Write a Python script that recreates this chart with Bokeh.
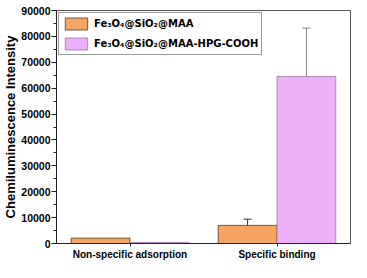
from bokeh.plotting import figure
from bokeh.models import ColumnDataSource, Whisker, TeeHead, SingleIntervalTicker, Range1d, FactorRange, NumeralTickFormatter
from bokeh.transform import dodge
from bokeh.embed import file_html
from bokeh.resources import INLINE

categories = ["Non-specific adsorption", "Specific binding"]
series_names = ["Fe\u2083O\u2084@SiO\u2082@MAA", "Fe\u2083O\u2084@SiO\u2082@MAA-HPG-COOH"]
maa_values = [2100, 7000]
maa_errors = [0, 2400]
hpg_values = [450, 64500]
hpg_errors = [0, 18700]
y_ticks_interval = 10000

FONT = "Liberation Sans"

p = figure(x_range=FactorRange(*categories, range_padding=0), y_range=Range1d(0, 90000),
           width=351, height=262, output_backend="svg", toolbar_location=None,
           min_border_left=49, min_border_right=1, min_border_top=10, min_border_bottom=17)

src = ColumnDataSource(dict(cat=categories, maa=maa_values, hpg=hpg_values))
p.vbar(x=dodge("cat", -0.2, range=p.x_range), top="maa", width=0.4, source=src,
       fill_color="#F5A461", line_color="#4a3a30", line_width=0.8, legend_label=series_names[0])
p.vbar(x=dodge("cat", 0.2, range=p.x_range), top="hpg", width=0.4, source=src,
       fill_color="#EDAEFA", line_color="#9a7aa0", line_width=0.8, legend_label=series_names[1])

def add_err(vals, errs, offset, color):
    idx = [i for i, e in enumerate(errs) if e > 0]
    s = ColumnDataSource(dict(cat=[categories[i] for i in idx],
                              lo=[vals[i] - errs[i] for i in idx],
                              hi=[vals[i] + errs[i] for i in idx]))
    w = Whisker(base=dodge("cat", offset, range=p.x_range), lower="lo", upper="hi", source=s,
                line_color=color, line_width=1,
                upper_head=TeeHead(size=8, line_color=color, line_width=1),
                lower_head=TeeHead(size=8, line_color=color, line_width=1))
    p.add_layout(w)

add_err(maa_values, maa_errors, -0.2, "#333333")
add_err(hpg_values, hpg_errors, 0.2, "#888888")

p.xgrid.visible = False
p.ygrid.visible = False
p.outline_line_color = "#555555"
p.outline_line_width = 1
p.background_fill_color = "white"
p.border_fill_color = "white"

ya = p.yaxis[0]
ya.ticker = SingleIntervalTicker(interval=y_ticks_interval, num_minor_ticks=2)
ya.formatter = NumeralTickFormatter(format="0")
ya.axis_label = "Chemiluminescence Intensity"
ya.axis_label_text_font = FONT
ya.axis_label_text_font_style = "bold"
ya.axis_label_text_font_size = "13px"
ya.axis_label_text_color = "black"
ya.axis_label_standoff = 0
ya.major_label_text_font = FONT
ya.major_label_text_font_style = "bold"
ya.major_label_text_font_size = "10.5px"
ya.major_label_text_color = "black"
ya.major_label_standoff = 1
ya.major_tick_in = 0
ya.major_tick_out = 5
ya.minor_tick_in = 0
ya.minor_tick_out = 3
ya.axis_line_color = "#222222"
ya.major_tick_line_color = "#222222"
ya.minor_tick_line_color = "#222222"

xa = p.xaxis[0]
xa.major_label_text_font = FONT
xa.major_label_text_font_style = "bold"
xa.major_label_text_font_size = "10px"
xa.major_label_text_color = "black"
xa.major_label_standoff = 2
xa.major_tick_in = 0
xa.major_tick_out = 3
xa.axis_line_color = "#222222"
xa.major_tick_line_color = "#222222"

lg = p.legend[0]
lg.location = "top_left"
lg.margin = 2
lg.padding = 3
lg.spacing = 5
lg.glyph_width = 28
lg.glyph_height = 15
lg.label_standoff = 4
lg.label_height = 15
lg.label_text_font = "DejaVu Sans"
lg.label_text_font_style = "bold"
lg.label_text_font_size = "10px"
lg.label_text_color = "black"
lg.border_line_color = "#333333"
lg.border_line_width = 1
lg.background_fill_alpha = 1

open("out.html", "w").write(file_html(p, INLINE))
